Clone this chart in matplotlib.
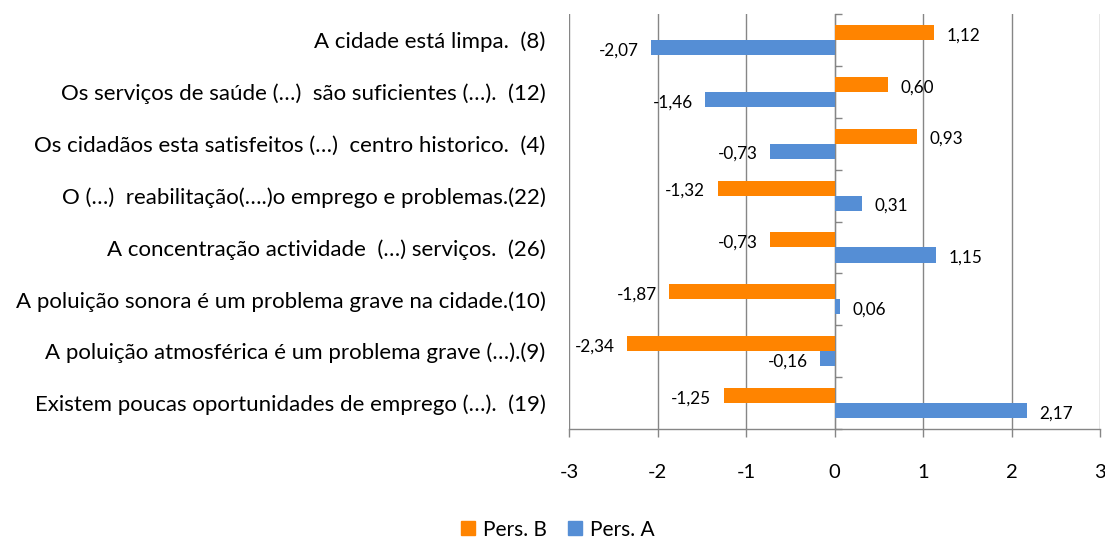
import matplotlib
matplotlib.use("Agg")
import matplotlib.pyplot as plt
import numpy as np
from matplotlib.patches import Patch

categories = [
    "A cidade está limpa.  (8)",
    "Os serviços de saúde (…)  são suficientes (…).  (12)",
    "Os cidadãos esta satisfeitos (…)  centro historico.  (4)",
    "O (…)  reabilitação(….)o emprego e problemas.(22)",
    "A concentração actividade  (…) serviços.  (26)",
    "A poluição sonora é um problema grave na cidade.(10)",
    "A poluição atmosférica é um problema grave (…).(9)",
    "Existem poucas oportunidades de emprego (…).  (19)",
]
pers_b = [1.12, 0.60, 0.93, -1.32, -0.73, -1.87, -2.34, -1.25]
pers_a = [-2.07, -1.46, -0.73, 0.31, 1.15, 0.06, -0.16, 2.17]
xticks = [-3, -2, -1, 0, 1, 2, 3]

ORANGE = "#FF8400"
BLUE = "#558ED5"
GRID = "#868686"

plt.rcParams['font.family'] = ['Lato', 'DejaVu Sans']

fig = plt.figure(figsize=(11.05, 5.42), dpi=100)
ax = fig.add_axes([0.515, 0.2085, 0.4805, 0.7655])

n = len(categories)
y = np.arange(n)[::-1].astype(float)
h = 0.29
bb = ax.barh(y + h / 2, pers_b, height=h, color=ORANGE, zorder=3)
ba = ax.barh(y - h / 2, pers_a, height=h, color=BLUE, zorder=3)

def fmt(v):
    return f"{v:.2f}".replace(".", ",")

for bars, vals in ((bb, pers_b), (ba, pers_a)):
    for rect, v in zip(bars, vals):
        yc = rect.get_y() + rect.get_height() / 2
        off = 9 if v >= 0 else -9
        ax.annotate(fmt(v), xy=(v, yc), xytext=(off, -2), textcoords="offset points",
                    ha="left" if v >= 0 else "right", va="center", fontsize=12.3,
                    color="#000000", zorder=4)

ax.set_xlim(-3, 3)
ax.set_ylim(-0.5, n - 0.5)
ax.set_xticks(xticks)
ax.set_xticklabels([str(t) for t in xticks])
ax.set_yticks(y)
ax.set_yticklabels(categories)

ax.grid(axis="x", color=GRID, linewidth=1.0, zorder=0)
ax.set_axisbelow(True)
for s in ("top", "right", "left"):
    ax.spines[s].set_visible(False)
ax.spines["bottom"].set_color(GRID)
ax.spines["bottom"].set_linewidth(1.0)
ax.tick_params(axis="x", length=6, width=1, color=GRID, pad=19, labelsize=14.5)
ax.tick_params(axis="y", length=0, pad=17, labelsize=16)

sec = ax.secondary_yaxis(0.5)
sec.set_yticks(np.arange(n + 1) - 0.5)
sec.set_yticklabels([])
sec.tick_params(axis="y", length=5, width=1, color=GRID, direction="out")
sec.spines["left"].set_color(GRID)
sec.spines["left"].set_linewidth(1.0)

handles = [Patch(color=ORANGE, label="Pers. B"), Patch(color=BLUE, label="Pers. A")]
fig.legend(handles=handles, loc="lower center", bbox_to_anchor=(0.505, -0.03), ncol=2,
           frameon=False, fontsize=15, handlelength=0.65, handleheight=0.65,
           handletextpad=0.4, columnspacing=1.0)

fig.savefig("out.png", dpi=100)
